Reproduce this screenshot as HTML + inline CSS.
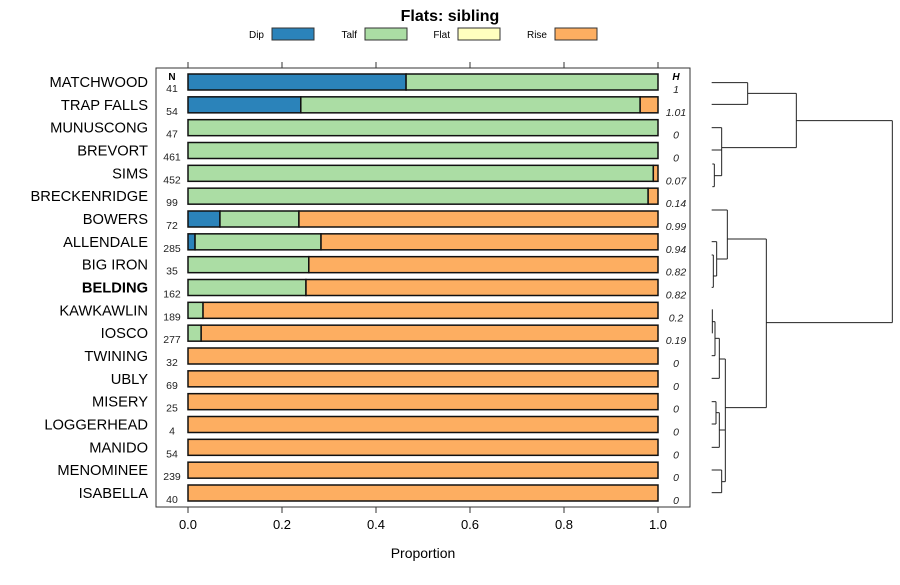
<!DOCTYPE html>
<html><head><meta charset="utf-8"><style>
body{margin:0;background:#fff;}
svg text{font-family:"Liberation Sans",sans-serif;}
</style></head><body>
<svg id="c" width="900" height="580" xmlns="http://www.w3.org/2000/svg">
<text x="450" y="21" text-anchor="middle" font-size="16" font-weight="bold">Flats: sibling</text>
<g id="legend"></g>
<rect x="156" y="68" width="534" height="439" fill="none" stroke="#333"/>
<g id="bars"></g>
<g id="axis"></g>
<text x="423" y="558" text-anchor="middle" font-size="14">Proportion</text>
<text x="172" y="80" text-anchor="middle" font-size="10" font-weight="bold">N</text>
<text x="676" y="80" text-anchor="middle" font-size="10" font-weight="bold" font-style="italic">H</text>
<g id="dendro" stroke="#222" stroke-width="1" fill="none"></g>
</svg>
<script>
const categories=["MATCHWOOD","TRAP FALLS","MUNUSCONG","BREVORT","SIMS","BRECKENRIDGE","BOWERS","ALLENDALE","BIG IRON","BELDING","KAWKAWLIN","IOSCO","TWINING","UBLY","MISERY","LOGGERHEAD","MANIDO","MENOMINEE","ISABELLA"];
const nValues=[41,54,47,461,452,99,72,285,35,162,189,277,32,69,25,4,54,239,40];
const hValues=["1","1.01","0","0","0.07","0.14","0.99","0.94","0.82","0.82","0.2","0.19","0","0","0","0","0","0","0"];
const dip=[0.464,0.24,0,0,0,0,0.068,0.015,0,0,0,0,0,0,0,0,0,0,0];
const talf=[0.536,0.722,1,1,0.99,0.979,0.168,0.268,0.257,0.251,0.032,0.028,0,0,0,0,0,0,0];
const flat=[0,0,0,0,0,0,0,0,0,0,0,0,0,0,0,0,0,0,0];
const rise=[0,0.038,0,0,0.01,0.021,0.764,0.717,0.743,0.749,0.968,0.972,1,1,1,1,1,1,1];
const seriesNames=["Dip","Talf","Flat","Rise"];
const xTicks=[0,0.2,0.4,0.6,0.8,1.0];
const tickLabels=["0.0","0.2","0.4","0.6","0.8","1.0"];
const colors=["#2b83ba","#abdda4","#ffffbf","#fdae61"];
const NS="http://www.w3.org/2000/svg";
const X=v=>188+v*470;
const Y=i=>82+i*(411/18);
function mk(t,a,p){const e=document.createElementNS(NS,t);for(const k in a)e.setAttribute(k,a[k]);p.appendChild(e);return e;}
const bars=document.getElementById('bars');
const series=[dip,talf,flat,rise];
categories.forEach((c,i)=>{
  const y=Y(i);
  const t=mk('text',{x:148,y:y+5,'text-anchor':'end','font-size':14.7,'font-weight':c==="BELDING"?'bold':'normal'},bars);
  t.textContent=c;
  
  
  const n=mk('text',{x:172,y:y+10,'text-anchor':'middle','font-size':10.5,fill:'#222'},bars);
  n.textContent=nValues[i];
  
  
  const h=mk('text',{x:676,y:y+11,'text-anchor':'middle','font-size':10.5,'font-style':'italic',fill:'#222'},bars);
  h.textContent=hValues[i];
  
  
  let acc=0;
  series.forEach((s,k)=>{
    if(s[i]<=0)return;
    const r=mk('rect',{x:X(acc),y:y-8,width:X(acc+s[i])-X(acc),height:16,fill:colors[k],stroke:'#111','stroke-width':1.5},bars);
    
    
    acc+=s[i];
  });
});
const ax=document.getElementById('axis');
xTicks.forEach((v,i)=>{
  mk('line',{x1:X(v),x2:X(v),y1:507,y2:513,stroke:'#333'},ax);
  mk('line',{x1:X(v),x2:X(v),y1:62,y2:68,stroke:'#333'},ax);
  const t=mk('text',{x:X(v),y:529,'text-anchor':'middle','font-size':13},ax);
  t.textContent=tickLabels[i];
  
  
});
const lg=document.getElementById('legend');
const lx=[272,365,458,555];
seriesNames.forEach((s,k)=>{
  const g=mk('g',{},lg);
  
  
  const t=mk('text',{x:lx[k]-8,y:38,'text-anchor':'end','font-size':10},g);t.textContent=s;
  mk('rect',{x:lx[k],y:28,width:42,height:12,fill:colors[k],stroke:'#333'},g);
});
const segs=[[65,68,173,68],[65,133,173,133],[173,68,173,133],[173,100,319,100],
[65,203,95,203],[65,270,95,270],[95,203,95,347],[95,263,319,263],[67,312,73,312],[67,380,73,380],[73,312,73,380],[73,347,95,347],
[319,100,319,263],[319,182,607,182],[607,182,607,788],[229,788,607,788],
[65,450,112,450],[112,450,112,597],[80,597,112,597],[65,545,80,545],[80,545,80,648],[70,648,80,648],[65,585,70,585],[70,585,70,682],[65,682,70,682],[112,537,229,537],
[229,537,229,1043],
[67,748,67,820],[67,785,75,785],[75,785,75,887],[65,887,75,887],[75,835,88,835],[88,835,88,955],[65,955,88,955],[88,897,106,897],[106,897,106,1265],[106,1043,229,1043],
[65,1025,78,1025],[78,1025,78,1092],[65,1092,78,1092],[78,1058,88,1058],[88,1058,88,1162],[65,1162,88,1162],[88,1110,106,1110],
[65,1230,95,1230],[95,1230,95,1298],[65,1298,95,1298],[95,1265,106,1265]];
const dg=document.getElementById('dendro');
segs.forEach(s=>mk('line',{x1:690+s[0]/3,y1:60+s[1]/3,x2:690+s[2]/3,y2:60+s[3]/3},dg));
</script>
</body></html>
